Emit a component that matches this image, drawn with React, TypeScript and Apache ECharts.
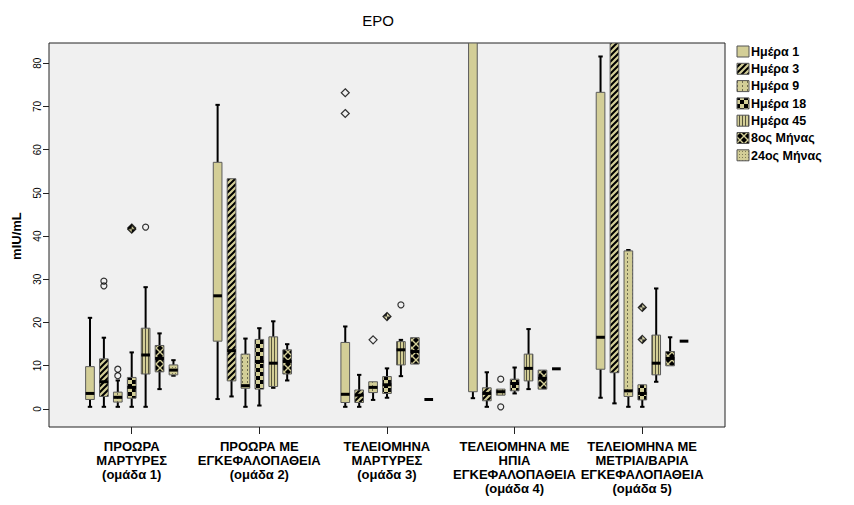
import React, { useEffect, useRef } from 'react';
import * as echarts from 'echarts';

const categories = [
  'ΠΡΟΩΡΑ\nΜΑΡΤΥΡΕΣ\n(ομάδα 1)',
  'ΠΡΟΩΡΑ ΜΕ\nΕΓΚΕΦΑΛΟΠΑΘΕΙΑ\n(ομάδα 2)',
  'ΤΕΛΕΙΟΜΗΝΑ\nΜΑΡΤΥΡΕΣ\n(ομάδα 3)',
  'ΤΕΛΕΙΟΜΗΝΑ ΜΕ\nΗΠΙΑ\nΕΓΚΕΦΑΛΟΠΑΘΕΙΑ\n(ομάδα 4)',
  'ΤΕΛΕΙΟΜΗΝΑ ΜΕ\nΜΕΤΡΙΑ/ΒΑΡΙΑ\nΕΓΚΕΦΑΛΟΠΑΘΕΙΑ\n(ομάδα 5)',
];

const seriesNames = ['Ημέρα 1', 'Ημέρα 3', 'Ημέρα 9', 'Ημέρα 18', 'Ημέρα 45', '8ος Μήνας', '24ος Μήνας'];

const yTicks = [0, 10, 20, 30, 40, 50, 60, 70, 80];

// [min whisker, Q1, median, Q3, max whisker] per group
const day1 = [
  [0.5, 2.2, 3.6, 9.8, 21.1],
  [2.3, 15.7, 26.2, 57.1, 70.4],
  [0.5, 1.5, 3.4, 15.4, 19.1],
  [2.5, 4.0, 92, 120, 150],
  [2.6, 9.2, 16.6, 73.3, 81.6],
];
const day3 = [
  [0.5, 2.9, 6.3, 11.6, 16.5],
  [2.9, 6.5, 13.5, 53.3, 53.3],
  [0.5, 1.5, 3.2, 4.4, 7.9],
  [0.5, 1.9, 3.6, 4.9, 8.5],
  [1.3, 8.4, 92, 125, 170],
];
const day9 = [
  [0.5, 1.6, 2.7, 3.9, 6.6],
  [0.5, 4.8, 5.4, 12.7, 16.3],
  [2.1, 3.8, 5.0, 6.3, 6.3],
  [3.2, 3.2, 4.0, 4.6, 4.6],
  [0.5, 2.9, 4.2, 36.6, 36.8],
];
const day18 = [
  [0.5, 2.5, 5.0, 7.3, 13.1],
  [0.8, 4.6, 11.0, 16.1, 18.7],
  [2.6, 3.6, 5.6, 7.5, 9.4],
  [3.6, 4.2, 5.9, 6.9, 9.6],
  [0.5, 2.1, 3.6, 5.6, 5.6],
];
const day45 = [
  [0.5, 8.1, 12.5, 18.7, 28.2],
  [4.9, 5.2, 10.6, 16.7, 20.3],
  [7.6, 10.2, 13.7, 15.6, 16.0],
  [4.6, 6.5, 9.4, 12.7, 18.5],
  [6.3, 7.9, 10.6, 17.1, 27.9],
];
const month8 = [
  [4.6, 8.6, 11.7, 14.7, 17.5],
  [6.6, 8.1, 11.0, 13.7, 15.0],
  [10.4, 10.4, 13.3, 16.5, 16.5],
  [4.6, 4.6, 7.1, 9.0, 9.0],
  [10.0, 10.0, 11.7, 13.3, 16.6],
];
const month24 = [
  [7.7, 7.9, 9.0, 10.2, 11.3],
  null,
  [2.2, 2.2, 2.2, 2.2, 2.2],
  [9.3, 9.3, 9.3, 9.3, 9.3],
  [15.7, 15.7, 15.7, 15.7, 15.7],
];

// outliers: [group index, value, extreme(1) / outlier(0)]
const day1Out = [[2, 73.2, 1], [2, 68.4, 1]];
const day3Out = [[0, 29.6, 0], [0, 28.5, 0]];
const day9Out = [[0, 9.2, 0], [0, 7.7, 0], [2, 16.0, 1], [3, 6.9, 0], [3, 0.5, 0]];
const day18Out = [[0, 41.9, 1], [0, 41.6, 1], [2, 21.4, 1], [4, 23.5, 1], [4, 16.1, 1]];
const day45Out = [[0, 42.1, 0], [2, 24.1, 0]];
const month8Out: number[][] = [];
const month24Out: number[][] = [];

const boxSeries = [day1, day3, day9, day18, day45, month8, month24];
const outSeries = [day1Out, day3Out, day9Out, day18Out, day45Out, month8Out, month24Out];

const BEIGE = '#d3ce97';
const YMIN = -4.17;
const YMAX = 84.72;
const XMIN = -0.648;
const XMAX = 4.648;
const SLOT = 0.109;
const BOXW = 0.068;

function tile(w: number, h: number, draw: (c: CanvasRenderingContext2D) => void) {
  const cv = document.createElement('canvas');
  cv.width = w;
  cv.height = h;
  const ctx = cv.getContext('2d') as CanvasRenderingContext2D;
  draw(ctx);
  return { image: cv.toDataURL(), repeat: 'repeat', imageWidth: w, imageHeight: h };
}

function makePatterns(): any[] {
  const solid = BEIGE;
  const diag = tile(6, 6, (c) => {
    c.fillStyle = BEIGE;
    c.fillRect(0, 0, 6, 6);
    c.strokeStyle = '#000';
    c.lineWidth = 2;
    c.beginPath();
    c.moveTo(-1, 7); c.lineTo(7, -1);
    c.moveTo(-4, 4); c.lineTo(4, -4);
    c.moveTo(2, 10); c.lineTo(10, 2);
    c.stroke();
  });
  const dots = tile(5, 4, (c) => {
    c.fillStyle = BEIGE;
    c.fillRect(0, 0, 5, 4);
    c.fillStyle = '#6e6b4e';
    c.fillRect(2, 1, 1, 2);
  });
  const checker = tile(8, 8, (c) => {
    c.fillStyle = BEIGE;
    c.fillRect(0, 0, 8, 8);
    c.fillStyle = '#000';
    c.fillRect(0, 0, 4, 4);
    c.fillRect(4, 4, 4, 4);
  });
  const vstripe = tile(3, 2, (c) => {
    c.fillStyle = BEIGE;
    c.fillRect(0, 0, 3, 2);
    c.fillStyle = '#55533c';
    c.fillRect(1, 0, 1, 2);
  });
  const cross = tile(8, 8, (c) => {
    c.fillStyle = '#000';
    c.fillRect(0, 0, 8, 8);
    c.strokeStyle = BEIGE;
    c.lineWidth = 1.4;
    c.beginPath();
    c.moveTo(0, 0); c.lineTo(8, 8);
    c.moveTo(8, 0); c.lineTo(0, 8);
    c.stroke();
  });
  const stipple = tile(3, 3, (c) => {
    c.fillStyle = BEIGE;
    c.fillRect(0, 0, 3, 3);
    c.fillStyle = '#807c58';
    c.fillRect(1, 1, 1, 1);
  });
  return [solid, diag, dots, checker, vstripe, cross, stipple];
}

export default function App() {
  const ref = useRef<HTMLDivElement>(null);

  useEffect(() => {
    document.body.style.margin = '0';
    if (!ref.current) return;
    const chart = echarts.init(ref.current, undefined, { renderer: 'svg' });
    const patterns = makePatterns();

    const makeRender = (slot: number, fill: any) => (params: any, api: any) => {
      const cat = api.value(0);
      const lo = api.value(1);
      const q1 = api.value(2);
      const med = api.value(3);
      const q3 = api.value(4);
      const hi = api.value(5);
      const xv = cat + (slot - 3) * SLOT;
      const cl = (v: number) => Math.max(YMIN, Math.min(YMAX, v));
      const y = (v: number) => api.coord([xv, cl(v)])[1];
      const cx = api.coord([xv, 0])[0];
      const bw = api.size([BOXW, 0])[0];
      const cap = 2.2;
      const line = (x1: number, y1: number, x2: number, y2: number, w: number) => ({
        type: 'line',
        shape: { x1, y1, x2, y2 },
        style: { stroke: '#000', lineWidth: w },
      });
      const children: any[] = [];
      if (hi > q3 && q3 < YMAX) {
        children.push(line(cx, y(hi), cx, y(q3), 2));
        if (hi <= YMAX) children.push(line(cx - cap, y(hi), cx + cap, y(hi), 2));
      }
      if (lo < q1) {
        children.push(line(cx, y(q1), cx, y(lo), 2));
        children.push(line(cx - cap, y(lo), cx + cap, y(lo), 2));
      }
      if (q3 > q1) {
        children.push({
          type: 'rect',
          shape: { x: cx - bw / 2, y: y(q3), width: bw, height: y(q1) - y(q3) },
          style: { fill, stroke: '#5a5a5a', lineWidth: 1 },
        });
      }
      if (med <= YMAX) children.push(line(cx - bw / 2, y(med), cx + bw / 2, y(med), 3));
      return { type: 'group', children };
    };

    const series: any[] = [];
    boxSeries.forEach((arr, s) => {
      const data: number[][] = [];
      arr.forEach((st, g) => {
        if (st) data.push([g, ...st]);
      });
      series.push({
        type: 'custom',
        name: seriesNames[s],
        xAxisIndex: 0,
        yAxisIndex: 0,
        clip: true,
        renderItem: makeRender(s, patterns[s]),
        encode: { x: 0, y: [1, 2, 3, 4, 5] },
        data,
        z: 2,
      });
    });

    const circles: any[] = [];
    const diamonds: any[] = [];
    outSeries.forEach((arr, s) => {
      arr.forEach(([g, v, ext]) => {
        const item = {
          value: [g + (s - 3) * SLOT, v],
          itemStyle: { color: s === 3 ? patterns[3] : 'rgba(0,0,0,0)' },
        };
        if (ext) diamonds.push(item);
        else circles.push(item);
      });
    });
    const outStyle = { borderColor: '#000', borderWidth: 1.2 };
    series.push({
      type: 'scatter', name: 'outliers', xAxisIndex: 0, yAxisIndex: 0,
      symbol: 'circle', symbolSize: 6, itemStyle: outStyle, data: circles, z: 3,
    });
    series.push({
      type: 'scatter', name: 'extremes', xAxisIndex: 0, yAxisIndex: 0,
      symbol: 'diamond', symbolSize: 8, itemStyle: outStyle, data: diamonds, z: 3,
    });

    const legendGraphics: any[] = [];
    seriesNames.forEach((n, i) => {
      legendGraphics.push({
        type: 'rect',
        shape: { x: 737, y: 46 + i * 17.3, width: 12, height: 11 },
        style: { fill: patterns[i], stroke: '#555', lineWidth: 1 },
      });
      legendGraphics.push({
        type: 'text',
        x: 751,
        y: 51.8 + i * 17.3,
        style: {
          text: n,
          font: 'bold 12.5px "Liberation Sans", Arial, sans-serif',
          fill: '#000',
          verticalAlign: 'middle',
          textVerticalAlign: 'middle',
        },
      });
    });
    legendGraphics.push({
      type: 'text',
      x: 378,
      y: 13,
      style: {
        text: 'EPO',
        font: '15px "Liberation Sans", Arial, sans-serif',
        fill: '#000',
        align: 'center',
        textAlign: 'center',
        verticalAlign: 'top',
        textVerticalAlign: 'top',
      },
    });

    const option: any = {
      animation: false,
      backgroundColor: '#ffffff',
      textStyle: { fontFamily: '"Liberation Sans", Arial, sans-serif' },
      grid: [
        { left: 49, top: 43, width: 676, height: 384, show: true, backgroundColor: '#f0f0f0', borderColor: '#222', borderWidth: 1 },
        { left: 49, top: 63.3, width: 676, height: 345.6, show: false },
        { left: 67.9, top: 43, width: 638, height: 384, show: false },
      ],
      xAxis: [
        { gridIndex: 0, type: 'value', min: XMIN, max: XMAX, show: false },
        { gridIndex: 1, type: 'value', min: 0, max: 1, show: false },
        {
          gridIndex: 2,
          type: 'category',
          data: categories,
          boundaryGap: true,
          axisLine: { show: false },
          axisTick: { show: true, alignWithLabel: true, length: 7, lineStyle: { color: '#222', width: 1 } },
          axisLabel: { interval: 0, color: '#000', fontWeight: 'bold', fontSize: 13, lineHeight: 14, margin: 12 },
          splitLine: { show: false },
        },
      ],
      yAxis: [
        { gridIndex: 0, type: 'value', min: YMIN, max: YMAX, show: false },
        {
          gridIndex: 1,
          type: 'value',
          min: 0,
          max: 80,
          interval: 10,
          axisLine: { show: false },
          axisTick: { show: true, length: 6, lineStyle: { color: '#222', width: 1 } },
          axisLabel: {
            rotate: 90, fontSize: 10, color: '#000', margin: 7,
            customValues: yTicks,
          },
          splitLine: { show: false },
          name: 'mIU/mL',
          nameLocation: 'middle',
          nameRotate: 90,
          nameGap: 26,
          nameTextStyle: { fontWeight: 'bold', fontSize: 13, color: '#000' },
        },
        { gridIndex: 2, type: 'value', min: 0, max: 1, show: false },
      ],
      graphic: legendGraphics,
      series,
    };
    chart.setOption(option);
    return () => chart.dispose();
  }, []);

  return <div ref={ref} style={{ width: 854, height: 505 }} />;
}
